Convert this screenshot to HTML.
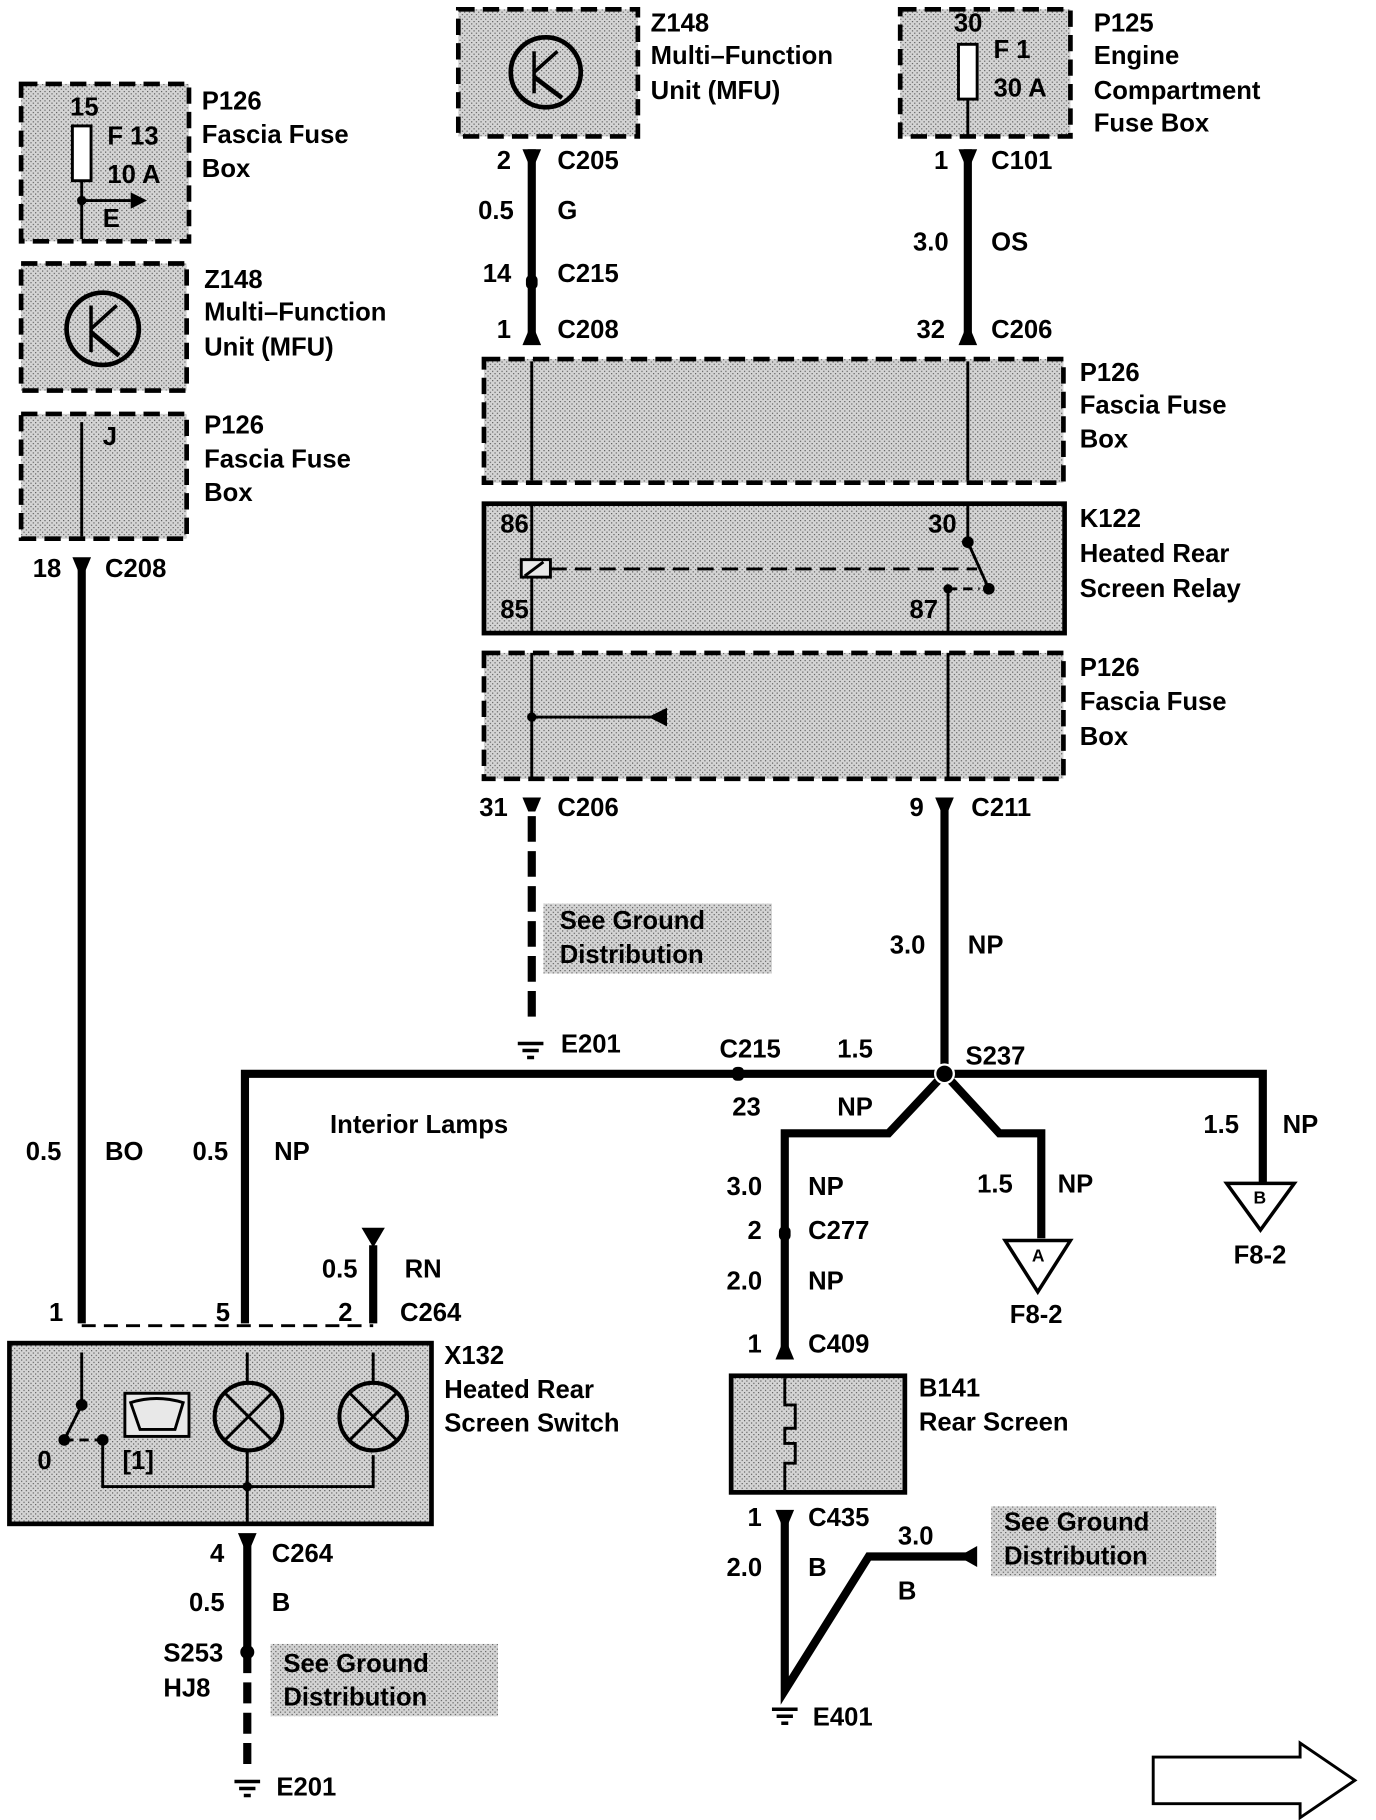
<!DOCTYPE html>
<html><head><meta charset="utf-8"><style>
html,body{margin:0;padding:0;background:#fff}
svg{display:block}
text{font-family:"Liberation Sans",Arial,sans-serif;font-weight:bold;font-size:22px;fill:#000;dominant-baseline:central}
</style></head><body>
<svg width="1376" height="1820" viewBox="0 0 1180 1561" xmlns="http://www.w3.org/2000/svg">
<defs>
<pattern id="dots" width="4" height="4" patternUnits="userSpaceOnUse">
<rect width="4" height="4" fill="#d4d4d4"/><rect width="1" height="1" fill="#555"/><rect x="2" y="2" width="1" height="1" fill="#555"/>
</pattern>
</defs>
<g fill="url(#dots)" stroke="#000" stroke-width="4">
<rect x="18" y="72" width="144" height="135" stroke-dasharray="14,7"/>
<rect x="18" y="226" width="142" height="109" stroke-dasharray="14,7"/>
<rect x="18" y="355" width="142" height="107" stroke-dasharray="14,7"/>
<rect x="393" y="8" width="154" height="109" stroke-dasharray="14,7"/>
<rect x="772" y="8" width="146" height="109" stroke-dasharray="14,7"/>
<rect x="415" y="308" width="497" height="106" stroke-dasharray="14,7"/>
<rect x="415" y="432" width="498" height="111"/>
<rect x="415" y="560" width="497" height="108" stroke-dasharray="14,7"/>
<rect x="8" y="1152" width="362" height="155"/>
<rect x="627" y="1180" width="149" height="100"/>
</g>
<g fill="url(#dots)" stroke="none">
<rect x="466" y="775" width="196" height="60"/>
<rect x="850" y="1292" width="193" height="60"/>
<rect x="232" y="1410" width="195" height="62"/>
</g>
<g stroke="#000" fill="none" stroke-width="2.5">
<rect x="62" y="108" width="16" height="47" fill="#fff"/>
<line x1="70" y1="155" x2="70" y2="205"/>
<line x1="70" y1="172" x2="112" y2="172"/>
<circle cx="88" cy="282" r="31" stroke-width="4"/>
<line x1="78" y1="262" x2="78" y2="302" stroke-width="3"/>
<line x1="78" y1="282" x2="100" y2="262" stroke-width="3"/>
<line x1="78" y1="285" x2="102" y2="305" stroke-width="4"/>
<line x1="70" y1="362" x2="70" y2="460"/>
<circle cx="468" cy="62" r="30" stroke-width="4"/>
<line x1="458" y1="44" x2="458" y2="80" stroke-width="3"/>
<line x1="458" y1="62" x2="478" y2="44" stroke-width="3"/>
<line x1="458" y1="66" x2="482" y2="84" stroke-width="4"/>
<rect x="822" y="38" width="16" height="47" fill="#fff"/>
<line x1="830" y1="85" x2="830" y2="117"/>
<line x1="456" y1="310" x2="456" y2="412"/>
<line x1="830" y1="310" x2="830" y2="412"/>
<line x1="456" y1="432" x2="456" y2="543"/>
<rect x="447" y="480" width="25" height="15" fill="#e8e8e8"/>
<line x1="450" y1="494" x2="466" y2="482"/>
<line x1="472" y1="488" x2="838" y2="488" stroke-dasharray="14,7"/>
<line x1="830" y1="432" x2="830" y2="465"/>
<line x1="830" y1="465" x2="848" y2="505"/>
<line x1="813" y1="505" x2="840" y2="505" stroke-dasharray="8,5"/>
<line x1="813" y1="505" x2="813" y2="543"/>
<line x1="456" y1="560" x2="456" y2="668"/>
<line x1="813" y1="560" x2="813" y2="668"/>
<line x1="456" y1="615" x2="560" y2="615"/>
<line x1="70" y1="1160" x2="70" y2="1205"/>
<line x1="70" y1="1205" x2="55" y2="1235"/>
<line x1="55" y1="1235" x2="85" y2="1235" stroke-dasharray="8,5"/>
<polyline points="88,1235 88,1275 320,1275 320,1248"/>
<line x1="212" y1="1245" x2="212" y2="1305"/>
<line x1="212" y1="1160" x2="212" y2="1185"/>
<line x1="320" y1="1160" x2="320" y2="1185"/>
<circle cx="213" cy="1215" r="29" stroke-width="3.5"/>
<line x1="193" y1="1195" x2="233" y2="1235"/><line x1="233" y1="1195" x2="193" y2="1235"/>
<circle cx="320" cy="1215" r="29" stroke-width="3.5"/>
<line x1="300" y1="1195" x2="340" y2="1235"/><line x1="340" y1="1195" x2="300" y2="1235"/>
<rect x="107" y="1195" width="55" height="37" fill="#e8e8e8"/>
<path d="M112 1203 Q134 1196 157 1203 L150 1226 L120 1226 Z"/>
<line x1="70" y1="1137" x2="320" y2="1137" stroke-dasharray="12,7"/>
<polyline points="673,1182 673,1205 682,1205 682,1225 673,1225 673,1238 682,1238 682,1255 673,1255 673,1278"/>
</g>
<g stroke="#000" fill="none" stroke-width="7">
<line x1="70" y1="485" x2="70" y2="1135"/>
<polyline points="210,1135 210,921 1083,921 1083,1015"/>
<line x1="456" y1="128" x2="456" y2="290"/>
<line x1="830" y1="128" x2="830" y2="290"/>
<line x1="810" y1="690" x2="810" y2="921"/>
<polyline points="810,921 762,972 673,972 673,1160"/>
<polyline points="810,921 857,972 893,972 893,1062"/>
<line x1="320" y1="1068" x2="320" y2="1135"/>
<line x1="212" y1="1320" x2="212" y2="1417"/>
<line x1="212" y1="1417" x2="212" y2="1515" stroke-dasharray="18,8"/>
<line x1="456" y1="700" x2="456" y2="880" stroke-dasharray="22,8"/>
<polyline points="673,1300 673,1450 745,1335 830,1335"/>
</g>
<g fill="#000" stroke="none">
<circle cx="70" cy="172" r="4"/>
<polygon points="112,165 126,172 112,179"/>
<polygon points="310,1053 330,1053 320,1070"/>
<polygon points="838,1326 822,1335 838,1344"/>
<polygon points="572,607 556,615 572,623"/>
<circle cx="810" cy="921" r="8" stroke="#fff" stroke-width="2"/>
<circle cx="212" cy="1417" r="6"/>
<circle cx="456" cy="615" r="4"/>
<circle cx="830" cy="465" r="5"/><circle cx="848" cy="505" r="5"/><circle cx="813" cy="505" r="4"/>
<circle cx="70" cy="1205" r="5"/><circle cx="55" cy="1235" r="5"/><circle cx="88" cy="1235" r="5"/>
<circle cx="212" cy="1275" r="4"/>
<path d="M62 478 L78 478 L73 490 L67 490 Z"/>
<path d="M448 128 L464 128 L459 140 L453 140 Z"/>
<path d="M822 128 L838 128 L833 140 L827 140 Z"/>
<path d="M448 296 L464 296 L459 284 L453 284 Z"/>
<path d="M822 296 L838 296 L833 284 L827 284 Z"/>
<path d="M448 684 L464 684 L459 696 L453 696 Z"/>
<path d="M802 684 L818 684 L813 696 L807 696 Z"/>
<path d="M204 1315 L220 1315 L215 1327 L209 1327 Z"/>
<path d="M665 1295 L681 1295 L676 1307 L670 1307 Z"/>
<path d="M665 1166 L681 1166 L676 1154 L670 1154 Z"/>
<rect x="668" y="1052" width="10" height="12" rx="4"/>
<rect x="451" y="236" width="10" height="12" rx="4"/>
<rect x="628" y="915" width="10" height="12" rx="4"/>
</g>
<g stroke="#000" stroke-width="3">
<line x1="444" y1="895" x2="466" y2="895"/><line x1="448" y1="901" x2="462" y2="901"/><line x1="452" y1="907" x2="458" y2="907"/>
<line x1="662" y1="1466" x2="684" y2="1466"/><line x1="666" y1="1472" x2="680" y2="1472"/><line x1="670" y1="1478" x2="676" y2="1478"/>
<line x1="201" y1="1528" x2="223" y2="1528"/><line x1="205" y1="1534" x2="219" y2="1534"/><line x1="209" y1="1540" x2="215" y2="1540"/>
</g>
<g stroke="#000" stroke-width="3" fill="#fff">
<polygon points="862,1064 918,1064 890,1108"/>
<polygon points="1052,1015 1110,1015 1081,1055"/>
<polygon points="989,1507 1115,1507 1115,1495 1162,1527 1115,1559 1115,1547 989,1547" stroke-width="2.5"/>
</g>
<text x="885" y="1077" style="font-size:15px">A</text>
<text x="1075" y="1027" style="font-size:15px">B</text>
<text x="60" y="92">15</text><text x="92" y="117">F 13</text><text x="92" y="150">10 A</text><text x="88" y="188">E</text>
<text x="173" y="87">P126</text><text x="173" y="116">Fascia Fuse</text><text x="173" y="145">Box</text>
<text x="175" y="240">Z148</text><text x="175" y="268">Multi–Function</text><text x="175" y="298">Unit (MFU)</text>
<text x="88" y="375">J</text>
<text x="175" y="365">P126</text><text x="175" y="394">Fascia Fuse</text><text x="175" y="423">Box</text>
<text x="28" y="488">18</text><text x="90" y="488">C208</text>
<text x="22" y="988">0.5</text><text x="90" y="988">BO</text>
<text x="165" y="988">0.5</text><text x="235" y="988">NP</text>
<text x="283" y="965">Interior Lamps</text>
<text x="558" y="20">Z148</text><text x="558" y="48">Multi–Function</text><text x="558" y="78">Unit (MFU)</text>
<text x="818" y="20">30</text><text x="852" y="43">F 1</text><text x="852" y="76">30 A</text>
<text x="938" y="20">P125</text><text x="938" y="48">Engine</text><text x="938" y="78">Compartment</text><text x="938" y="106">Fuse Box</text>
<text x="426" y="138">2</text><text x="478" y="138">C205</text>
<text x="410" y="181">0.5</text><text x="478" y="181">G</text>
<text x="414" y="235">14</text><text x="478" y="235">C215</text>
<text x="426" y="283">1</text><text x="478" y="283">C208</text>
<text x="801" y="138">1</text><text x="850" y="138">C101</text>
<text x="783" y="208">3.0</text><text x="850" y="208">OS</text>
<text x="786" y="283">32</text><text x="850" y="283">C206</text>
<text x="926" y="320">P126</text><text x="926" y="348">Fascia Fuse</text><text x="926" y="377">Box</text>
<text x="429" y="450">86</text><text x="429" y="523">85</text><text x="796" y="450">30</text><text x="780" y="523">87</text>
<text x="926" y="445">K122</text><text x="926" y="475">Heated Rear</text><text x="926" y="505">Screen Relay</text>
<text x="926" y="573">P126</text><text x="926" y="602">Fascia Fuse</text><text x="926" y="632">Box</text>
<text x="411" y="693">31</text><text x="478" y="693">C206</text>
<text x="780" y="693">9</text><text x="833" y="693">C211</text>
<text x="480" y="790">See Ground</text><text x="480" y="819">Distribution</text>
<text x="763" y="811">3.0</text><text x="830" y="811">NP</text>
<text x="481" y="896">E201</text>
<text x="617" y="900">C215</text><text x="718" y="900">1.5</text><text x="828" y="906">S237</text>
<text x="628" y="950">23</text><text x="718" y="950">NP</text>
<text x="1032" y="965">1.5</text><text x="1100" y="965">NP</text>
<text x="623" y="1018">3.0</text><text x="693" y="1018">NP</text>
<text x="838" y="1016">1.5</text><text x="907" y="1016">NP</text>
<text x="641" y="1056">2</text><text x="693" y="1056">C277</text>
<text x="1058" y="1077">F8-2</text>
<text x="623" y="1099">2.0</text><text x="693" y="1099">NP</text>
<text x="866" y="1128">F8-2</text>
<text x="641" y="1153">1</text><text x="693" y="1153">C409</text>
<text x="788" y="1191">B141</text><text x="788" y="1220">Rear Screen</text>
<text x="641" y="1302">1</text><text x="693" y="1302">C435</text>
<text x="770" y="1318">3.0</text>
<text x="861" y="1306">See Ground</text><text x="861" y="1335">Distribution</text>
<text x="623" y="1345">2.0</text><text x="693" y="1345">B</text><text x="770" y="1365">B</text>
<text x="697" y="1473">E401</text>
<text x="276" y="1089">0.5</text><text x="347" y="1089">RN</text>
<text x="42" y="1126">1</text><text x="185" y="1126">5</text><text x="290" y="1126">2</text><text x="343" y="1126">C264</text>
<text x="381" y="1163">X132</text><text x="381" y="1192">Heated Rear</text><text x="381" y="1221">Screen Switch</text>
<text x="32" y="1253">0</text><text x="105" y="1253">[1]</text>
<text x="180" y="1333">4</text><text x="233" y="1333">C264</text>
<text x="162" y="1375">0.5</text><text x="233" y="1375">B</text>
<text x="140" y="1418">S253</text><text x="140" y="1448">HJ8</text>
<text x="243" y="1427">See Ground</text><text x="243" y="1456">Distribution</text>
<text x="237" y="1533">E201</text>
</svg>
</body></html>
